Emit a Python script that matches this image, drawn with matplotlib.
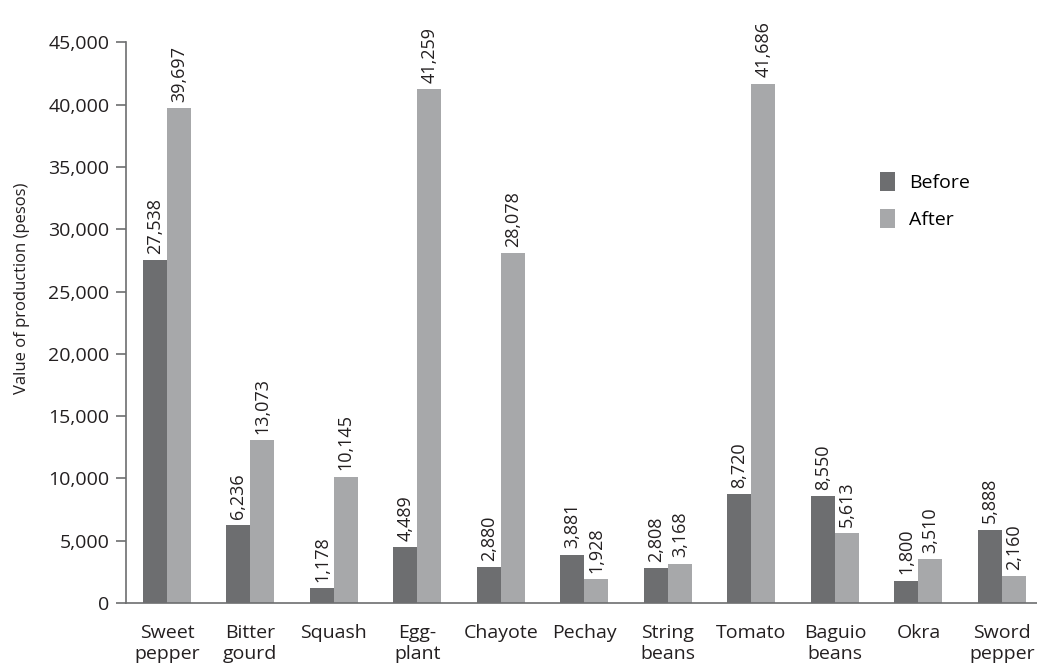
import matplotlib
matplotlib.use("Agg")
import matplotlib.pyplot as plt
import numpy as np

categories = ["Sweet\npepper", "Bitter\ngourd", "Squash", "Egg-\nplant", "Chayote", "Pechay",
              "String\nbeans", "Tomato", "Baguio\nbeans", "Okra", "Sword\npepper"]
before = [27538, 6236, 1178, 4489, 2880, 3881, 2808, 8720, 8550, 1800, 5888]
after = [39697, 13073, 10145, 41259, 28078, 1928, 3168, 41686, 5613, 3510, 2160]

plt.rcParams['font.family'] = ['Open Sans', 'DejaVu Sans']
c_before = "#6d6e70"
c_after = "#a7a8aa"
text_c = "#231f20"

fig = plt.figure(figsize=(10.37, 6.69), dpi=100)
ax = fig.add_axes([0.1215, 0.0987, 0.8785, 0.838])
x = np.arange(len(categories))
w = 0.287
b1 = ax.bar(x - w/2, before, w, color=c_before, label="Before")
b2 = ax.bar(x + w/2, after, w, color=c_after, label="After")
for rect, v in zip(b1, before):
    ax.text(rect.get_x() + rect.get_width()/2, v + 500, f"{v:,}", rotation=90,
            ha="center", va="bottom", fontsize=13, color=text_c)
for rect, v in zip(b2, after):
    ax.text(rect.get_x() + rect.get_width()/2, v + 500, f"{v:,}", rotation=90,
            ha="center", va="bottom", fontsize=13, color=text_c)

ax.set_xlim(-0.49, 10.42)
ax.set_ylim(0, 45000)
ax.set_yticks(np.arange(0, 45001, 5000))
ax.set_yticklabels([f"{t:,}" for t in range(0, 45001, 5000)])
ax.set_xticks(x)
ax.set_xticklabels(categories, fontsize=14, color=text_c, linespacing=1.25)
ax.tick_params(axis="x", length=0, pad=15)
ax.tick_params(axis="y", length=7, color="#6d6e70", labelsize=14, labelcolor=text_c, width=1.2, pad=5)
for s in ["top", "right"]:
    ax.spines[s].set_visible(False)
for s in ["left", "bottom"]:
    ax.spines[s].set_color("#6d6e70")
    ax.spines[s].set_linewidth(1.2)
ax.set_ylabel("Value of production (pesos)", fontsize=12, color=text_c)
ax.yaxis.set_label_coords(-0.105, 0.561)
ax.legend(loc="upper left", bbox_to_anchor=(0.808, 0.80), frameon=False, fontsize=14,
          handlelength=0.8, handleheight=1.1, handletextpad=0.7, labelspacing=0.9)
fig.savefig("out.png", dpi=100)
